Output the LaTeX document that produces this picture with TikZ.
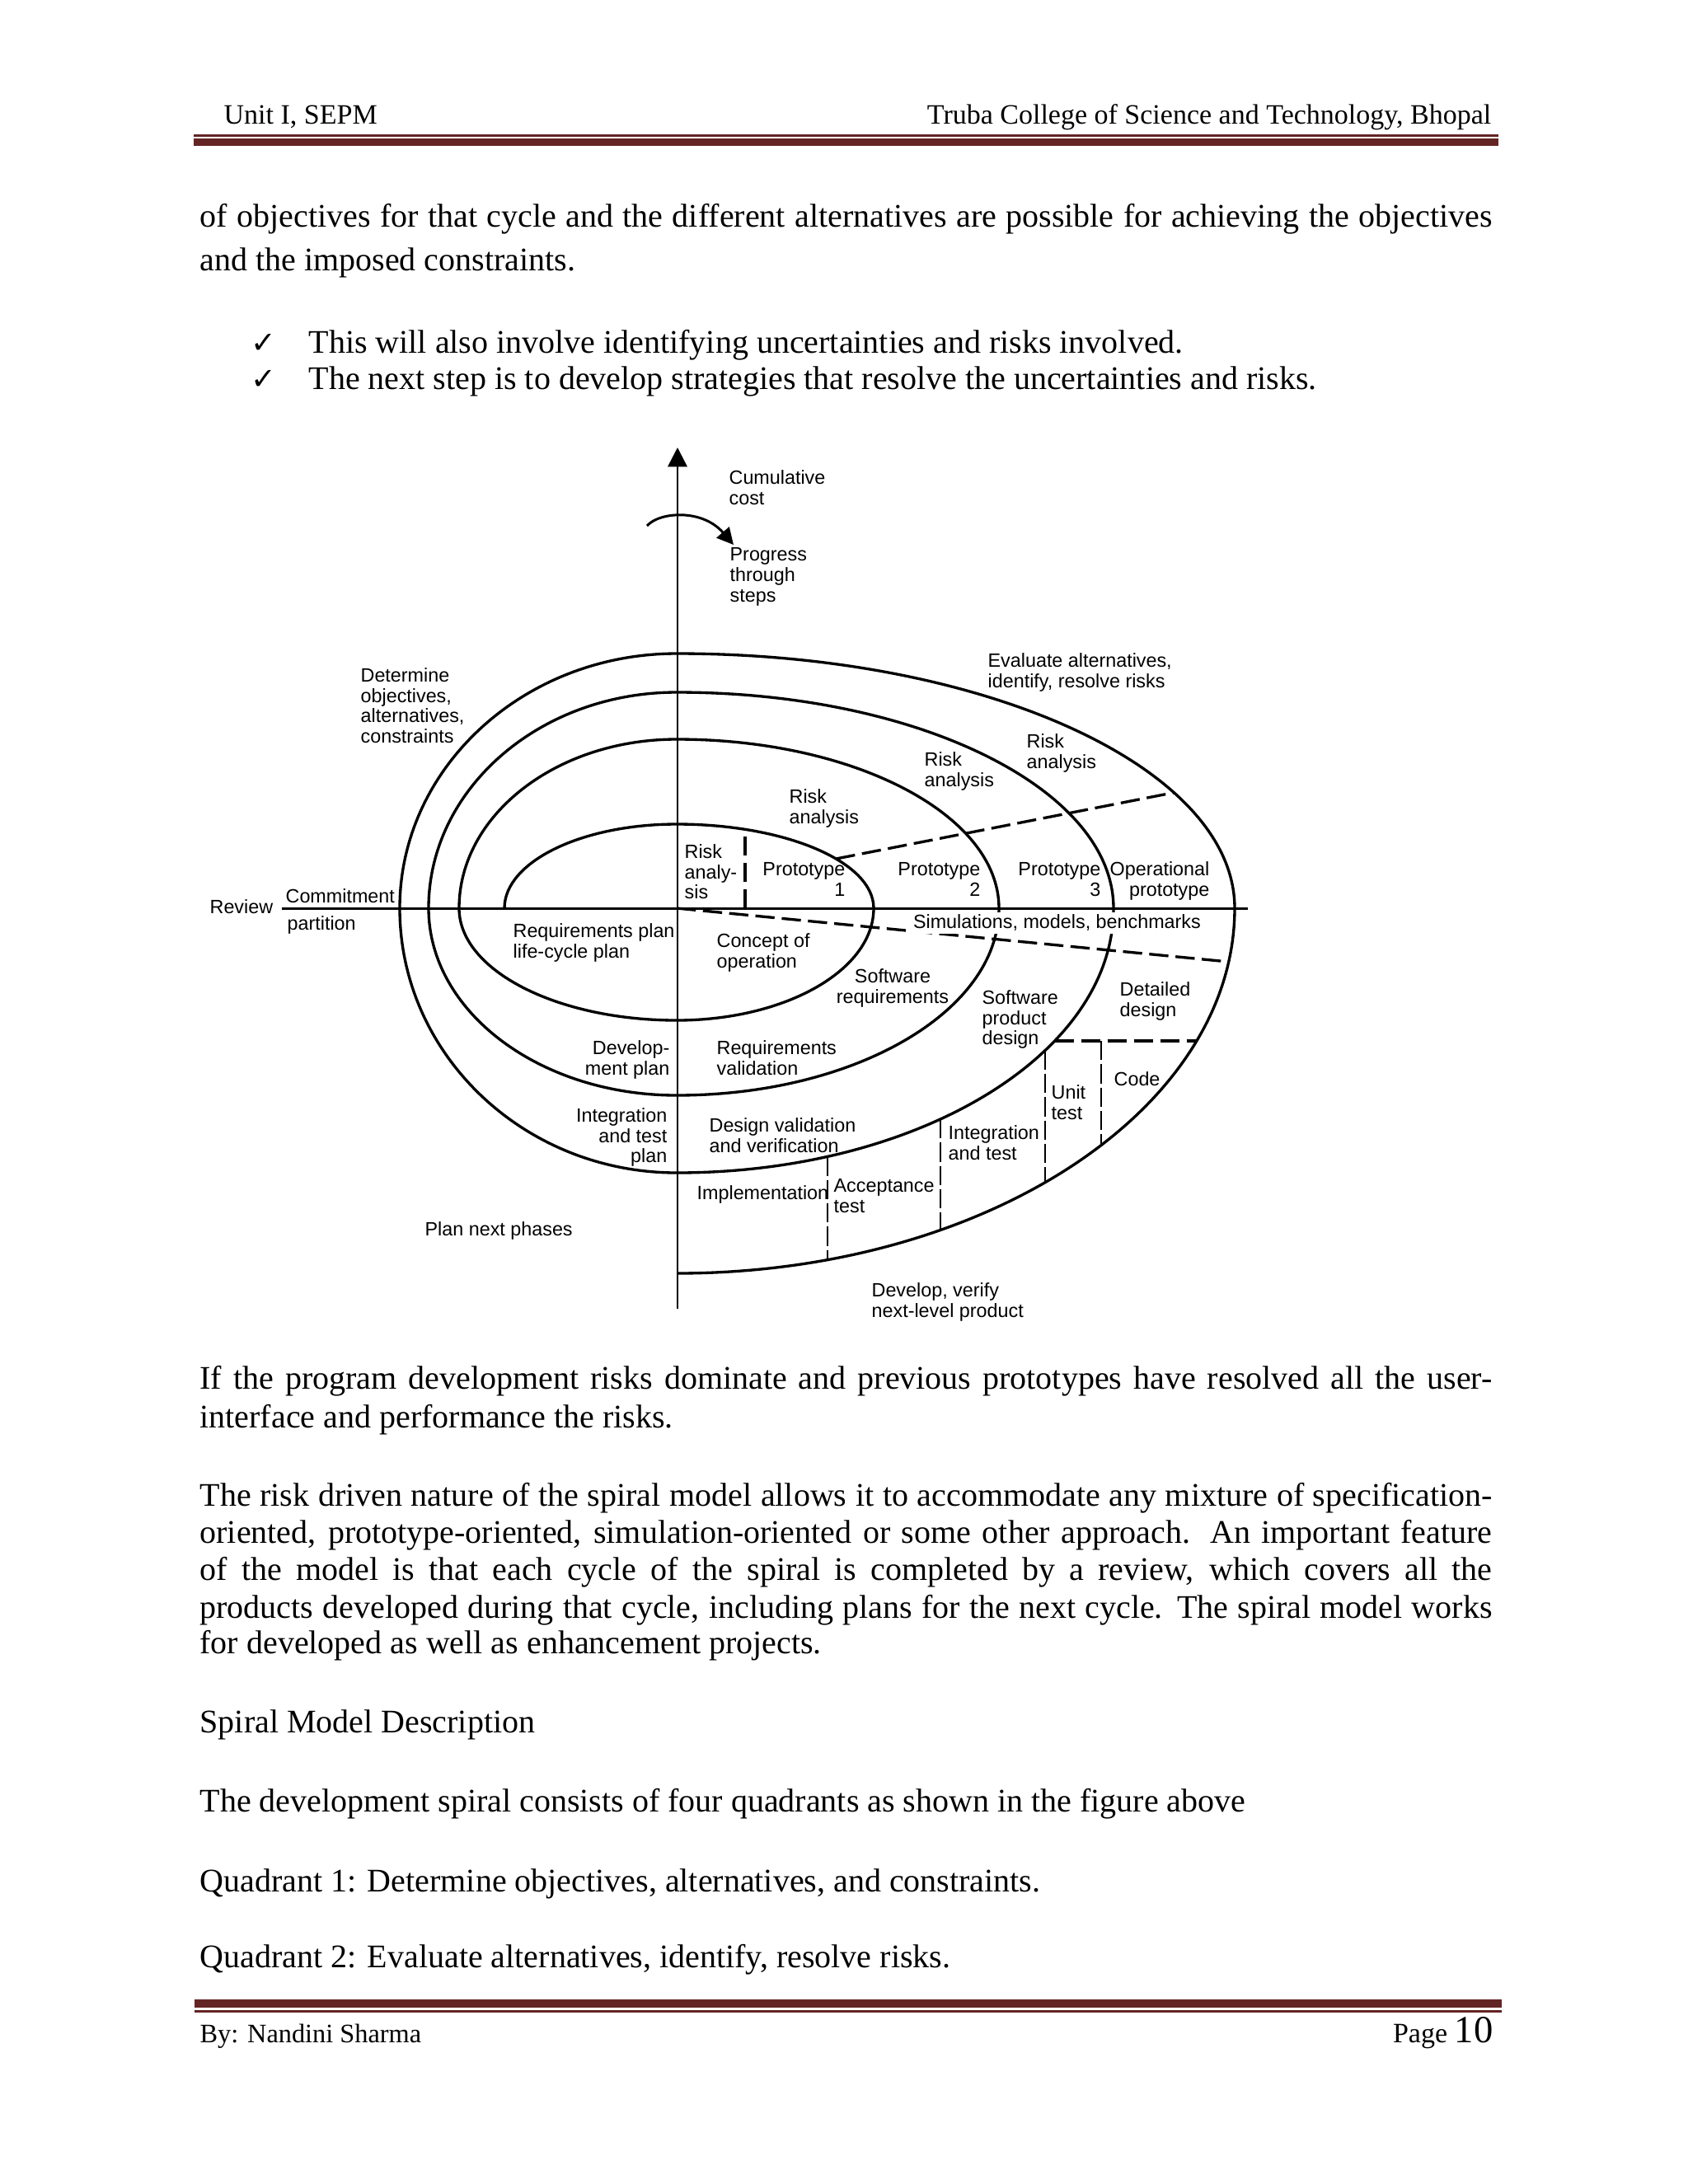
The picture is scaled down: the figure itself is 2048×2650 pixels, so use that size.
\documentclass[tikz,border=0pt]{standalone}
\usepackage{fontspec}
\setmainfont{Liberation Serif}
\newfontfamily\diagfont{Liberation Sans}
\newfontfamily\symfont{DejaVu Sans}
\usepackage{tikz}
\usetikzlibrary{arrows.meta}
\definecolor{rulered}{RGB}{99,36,35}
\newcommand{\jline}[1]{\makebox[16.53cm][s]{#1}}
\newcommand{\tick}{{\symfont\fontsize{11}{11}\selectfont ✓}}

\tikzset{
  lbl/.style={font=\diagfont\fontsize{7}{7.4}\selectfont, inner sep=0pt, align=left},
  lblr/.style={lbl, align=right},
  body/.style={font=\fontsize{12}{14}\selectfont, inner sep=0pt, anchor=base west},
  head/.style={font=\fontsize{10.2}{12}\selectfont, inner sep=0pt},
  spiral/.style={line width=1pt},
  dashline/.style={line width=1pt, dash pattern=on 7pt off 2.6pt},
  thindash/.style={line width=0.75pt, dash pattern=on 7pt off 1.5pt}
}

\begin{document}
\begin{tikzpicture}[x=0.010542cm, y=-0.010542cm]
\useasboundingbox[fill=white] (0,0) rectangle (2048,2650);

% header and footer
\node[head, anchor=base west] (unit) at (271,150) {Unit I, SEPM};
\node[head, anchor=base east] (college) at (1810,150) {Truba College of Science and Technology, Bhopal};
\fill[rulered] (235,163) rectangle (1818,165.5);
\fill[rulered] (235,168) rectangle (1818,177);
\fill[rulered] (236,2426) rectangle (1822,2436);
\fill[rulered] (236,2439) rectangle (1822,2441.5);
\node[head, font=\fontsize{9.7}{12}\selectfont, anchor=base west] (author) at (242,2478) {By: Nandini Sharma};
\node[head, anchor=base east] (page) at (1812,2478) {Page {\fontsize{14}{14}\selectfont 10}};

% text above the figure
\node[body] (p1a) at (242,275) {\jline{of objectives for that cycle and the different alternatives are possible for achieving the objectives}};
\node[body] (p1b) at (242,328) {and the imposed constraints.};
\node[body] (t1) at (304,428) {\tick};
\node[body] (b1) at (374,428) {This will also involve identifying uncertainties and risks involved.};
\node[body] (t2) at (304,472) {\tick};
\node[body] (b2) at (374,472) {The next step is to develop strategies that resolve the uncertainties and risks.};

% text below the figure
\node[body] (p2a) at (242,1685) {\jline{If the program development risks dominate and previous prototypes have resolved all the user-}};
\node[body] (p2b) at (242,1732) {interface and performance the risks.};
\node[body] (p3a) at (242,1827) {\jline{The risk driven nature of the spiral model allows it to accommodate any mixture of specification-}};
\node[body] (p3b) at (242,1872) {\jline{oriented, prototype-oriented, simulation-oriented or some other approach. An important feature}};
\node[body] (p3c) at (242,1917) {\jline{of the model is that each cycle of the spiral is completed by a review, which covers all the}};
\node[body] (p3d) at (242,1963) {\jline{products developed during that cycle, including plans for the next cycle. The spiral model works}};
\node[body] (p3e) at (242,2006) {for developed as well as enhancement projects.};
\node[body] (title) at (242,2102) {Spiral Model Description};
\node[body] (p4) at (242,2198) {The development spiral consists of four quadrants as shown in the figure above};
\node[body] (q1) at (242,2295) {Quadrant 1: Determine objectives, alternatives, and constraints.};
\node[body] (q2) at (242,2387) {Quadrant 2: Evaluate alternatives, identify, resolve risks.};

% axes
\coordinate (axbot) at (822,1588);
\coordinate (axtop) at (822,543);
\coordinate (hleft) at (342,1102);
\coordinate (hright) at (1514,1102);
\draw[line width=0.8pt, -{Triangle[width=7pt,length=7pt]}] (axbot) -- (axtop);
\draw[line width=0.9pt] (hleft) -- (hright);
\coordinate (turnA) at (785,638);
\coordinate (turnB) at (890,661);
\draw[line width=0.9pt, -{Triangle[width=6pt,length=6pt]}] (turnA) .. controls (800,621) and (852,617) .. (turnB);

% the spiral, quarter by quarter
\draw[spiral] (612,1102) \foreach \a/\rx/\ry in {180/209/102, 270/239/102, 360/239/136, 450/264/136,
  540/264/205, 630/391/205, 720/391/227, 810/301/227, 900/301/262, 990/530/262, 1080/530/321,
  1170/336/321, 1260/336/309, 1350/677/309, 1440/677/443}
  { arc[start angle=\a, delta angle=90, x radius=\rx, y radius=\ry] };

% dashed partitions
\draw[dashline] (1014.4,1042) -- (1424.2,961.7);
\draw[dashline] (821,1102) -- (1490.7,1167);
\draw[dashline] (904,1102) -- (904,1006.3);
\draw[dashline] (1279.5,1263) -- (1451.7,1263);
\draw[thindash] (1336,1263) -- (1336,1389.5);
\foreach \x/\ya/\yb in {1268/1274.5/1434.7, 1141/1357.9/1492.4, 1004/1403.3/1528.5}
  \draw[thindash] (\x,\ya) -- (\x,\yb);

% labels
\node[lbl, anchor=north west] (cumcost) at (884,570) {Cumulative\\cost};
\node[lbl, anchor=north west] (progress) at (885,664) {Progress\\through\\steps};
\node[lbl, anchor=north west] (evaluate) at (1198,792) {Evaluate alternatives,\\identify, resolve risks};
\node[lbl, anchor=north west] (determine) at (437,810) {Determine\\objectives,\\alternatives,\\constraints};
\node[lbl, anchor=north west] (riskA) at (830,1024) {Risk\\analy-\\sis};
\node[lbl, anchor=north west] (riskB) at (957,957) {Risk\\analysis};
\node[lbl, anchor=north west] (riskC) at (1121,912) {Risk\\analysis};
\node[lbl, anchor=north west] (riskD) at (1245,890) {Risk\\analysis};
\node[lblr, anchor=north east] (proto1) at (1026,1046) {Prototype\\1};
\node[lblr, anchor=north east] (proto2) at (1190,1046) {Prototype\\2};
\node[lblr, anchor=north east] (proto3) at (1336,1046) {Prototype\\3};
\node[lblr, anchor=north east] (opproto) at (1468,1045) {Operational\\prototype};
\node[lbl, anchor=north west, fill=white, inner sep=1pt] (sim) at (1104,1106) {Simulations, models, benchmarks};
\node[lbl, anchor=west] (review) at (254,1100) {Review};
\node[lbl, anchor=south west] (commit) at (346,1096) {Commitment};
\node[lbl, anchor=north west] (partition) at (348,1111) {partition};
\node[lbl, anchor=north west] (reqplan) at (622,1120) {Requirements plan\\life-cycle plan};
\node[lbl, anchor=north west] (concept) at (869,1132) {Concept of\\operation};
\node[lbl, align=center, anchor=north] (swreq) at (1083,1175) {Software\\requirements};
\node[lbl, anchor=north west] (swprod) at (1191,1201) {Software\\product\\design};
\node[lbl, anchor=north west] (detdesign) at (1358,1191) {Detailed\\design};
\node[lbl, anchor=north west] (code) at (1351,1300) {Code};
\node[lbl, anchor=north west] (unittest) at (1275,1316) {Unit\\test};
\node[lbl, anchor=north west] (inttest) at (1150,1365) {Integration\\and test};
\node[lbl, anchor=north west] (accept) at (1011,1430) {Acceptance\\test};
\node[lbl, anchor=west] (impl) at (845,1449) {Implementation};
\node[lbl, anchor=north west] (designval) at (860,1356) {Design validation\\and verification};
\node[lbl, anchor=north west] (reqval) at (869,1262) {Requirements\\validation};
\node[lblr, anchor=north east] (devplan) at (813,1262) {Develop-\\ment plan};
\node[lblr, anchor=north east] (intplan) at (810,1344) {Integration\\and test\\plan};
\node[lbl, anchor=north west] (plannext) at (515,1482) {Plan next phases};
\node[lbl, anchor=north west] (develop) at (1057,1556) {Develop, verify\\next-level product};
\end{tikzpicture}
\end{document}
